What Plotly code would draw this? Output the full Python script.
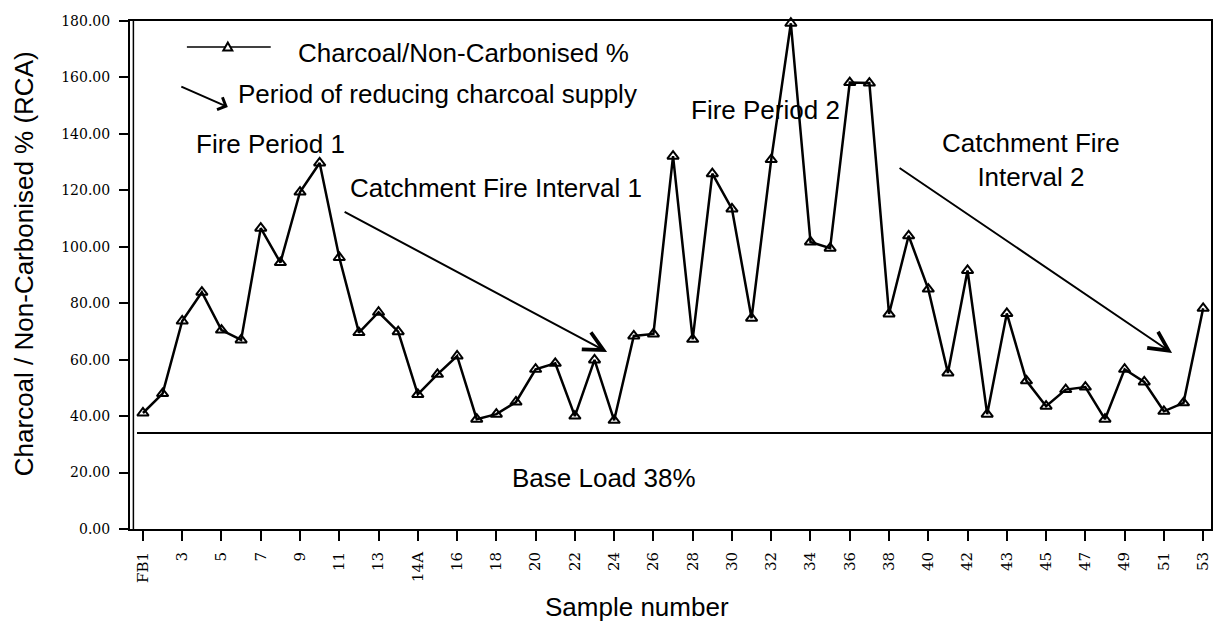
import plotly.graph_objects as go

# ---------------- data ----------------
samples = (["FB1"] + [str(n) for n in range(2, 15)] + ["14A"]
           + [str(n) for n in range(15, 43)] + ["42A"]
           + [str(n) for n in range(43, 54)])

charcoal_pct = [41.1, 48.0, 73.7, 83.9, 70.5, 67.0, 106.6, 94.4, 119.4, 129.7,
                96.2, 69.6, 76.8, 69.9, 47.7, 54.8, 61.3, 38.9, 40.7, 45.0,
                56.6, 58.7, 40.0, 59.9, 38.5, 68.4, 69.1, 132.1, 67.2, 125.9,
                113.4, 74.7, 130.9, 179.2, 101.7, 99.5, 158.2, 158.0, 76.2, 103.9,
                85.0, 55.3, 91.6, 40.7, 76.4, 52.5, 43.5, 49.4, 50.3, 38.9,
                56.6, 52.1, 41.7, 44.7, 78.2]

tick_labels = samples[::2]
base_load = 34.0
y_ticks = [0, 20, 40, 60, 80, 100, 120, 140, 160, 180]

# ---------------- layout helpers (pixel -> paper) ----------------
W, H = 1219, 621
L, R, T, B = 130, 6, 21, 92
PW, PH = W - L - R, H - T - B


def px(x):
    return (x - L) / PW


def py(y):
    return (H - B - y) / PH


SANS = "Liberation Sans, Arial, sans-serif"
SERIF = "DejaVu Serif, serif"

fig = go.Figure()
fig.add_trace(go.Scatter(
    x=samples, y=charcoal_pct, mode="lines+markers",
    line=dict(color="black", width=2.5),
    marker=dict(symbol="triangle-up-open", size=10, color="black",
                line=dict(width=2, color="black")),
    showlegend=False, cliponaxis=False,
))

shapes = [
    # base load line
    dict(type="line", xref="paper", yref="y", x0=px(137), x1=1,
         y0=base_load, y1=base_load, line=dict(color="black", width=2)),
    # inner line of the double y-axis
    dict(type="line", xref="paper", yref="paper", x0=px(133.4), x1=px(133.4),
         y0=0, y1=1, line=dict(color="black", width=1.5)),
    # legend sample line
    dict(type="line", xref="paper", yref="paper", x0=px(187), x1=px(271),
         y0=py(47), y1=py(47), line=dict(color="black", width=1.5)),
    # legend sample triangle
    dict(type="path", xref="paper", yref="paper", xsizemode="pixel",
         ysizemode="pixel", xanchor=px(228), yanchor=py(47),
         path="M -4.5 -3.5 L 4.5 -3.5 L 0 4.5 Z",
         fillcolor="white", line=dict(color="black", width=2)),
]

annotations = [
    dict(text="Charcoal/Non-Carbonised %", x=px(296), y=py(53), xanchor="left"),
    dict(text="Period of reducing charcoal supply", x=px(236), y=py(94),
         xanchor="left"),
    dict(text="Fire Period 1", x=px(271), y=py(144)),
    dict(text="Catchment Fire Interval 1", x=px(497), y=py(188)),
    dict(text="Fire Period 2", x=px(767), y=py(110)),
    dict(text="Catchment Fire<br>Interval 2", x=px(1033), y=py(160)),
    dict(text="Base Load 38%", x=px(605), y=py(478)),
    dict(text="Sample number", x=px(638), y=py(607)),
    dict(text="Charcoal / Non-Carbonised % (RCA)", x=px(24), y=py(264),
         textangle=-90),
]
for a in annotations:
    a.update(xref="paper", yref="paper", showarrow=False,
             font=dict(family=SANS, size=26, color="black"))
    a.setdefault("xanchor", "center")
    a.setdefault("yanchor", "middle")

arrows = [
    dict(x=px(228), y=py(107), ax=-48, ay=-21, arrowhead=4, arrowsize=1.3),
    dict(x=px(608), y=py(352), ax=-264, ay=-141, arrowhead=5, arrowsize=1.9),
    dict(x=px(1174), y=py(353), ax=-274, ay=-186, arrowhead=5, arrowsize=1.9),
]
for a in arrows:
    a.update(xref="paper", yref="paper", showarrow=True, text="",
             arrowwidth=2, arrowcolor="black")
annotations += arrows

fig.update_layout(
    width=W, height=H,
    margin=dict(l=L, r=R, t=T, b=B),
    paper_bgcolor="white", plot_bgcolor="white",
    shapes=shapes, annotations=annotations,
    xaxis=dict(
        type="category", range=[-0.66, 54.4],
        tickmode="array", tickvals=tick_labels, ticktext=tick_labels,
        tickangle=-90, ticks="outside", ticklen=10, tickwidth=2,
        tickcolor="black", showline=True, linewidth=2, linecolor="black",
        mirror=True, showgrid=False, zeroline=False,
        tickfont=dict(family=SERIF, size=15, color="black"),
        ticklabelstandoff=5,
    ),
    yaxis=dict(
        range=[0, 180], tickmode="array", tickvals=y_ticks,
        tickformat=".2f", ticks="outside", ticklen=9, tickwidth=1.5,
        tickcolor="black", showline=True, linewidth=2, linecolor="black",
        mirror=True, showgrid=False, zeroline=False,
        tickfont=dict(family=SERIF, size=14, color="black"),
        ticklabelstandoff=6,
    ),
)

fig.write_html(
    "out.html",
    config={"displayModeBar": False},
    post_script="document.body.style.margin='0px';"
                "document.body.style.overflow='hidden';",
)
